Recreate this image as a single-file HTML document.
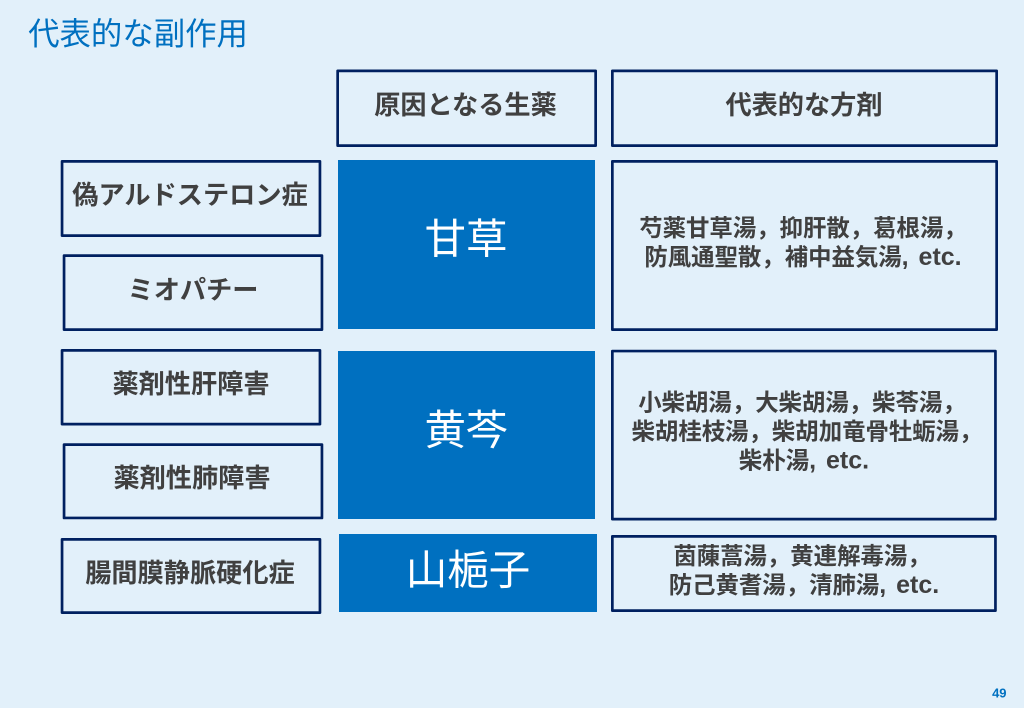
<!DOCTYPE html>
<html lang="ja"><head><meta charset="utf-8"><style>
html,body{margin:0;padding:0}
body{width:1024px;height:708px;background:#e2f0fa;position:relative;overflow:hidden;font-family:"Liberation Sans","Noto Sans CJK JP",sans-serif}
svg{position:absolute;left:0;top:0}
rect.b{fill:none;stroke:#002060;stroke-width:2.7;stroke-linejoin:round}
.f{position:absolute;background:#0070c0}
.t{position:absolute;white-space:nowrap;text-align:center;transform:translate(-50%,-50%);color:#404040;font-weight:700;font-size:26.2px;line-height:1}
.s{font-size:23.4px;line-height:29px}
.s i{font-style:normal;position:relative}
.s span{font-size:25px;word-spacing:3px}
.w{color:#fff;font-weight:400;font-size:41.5px}
</style></head><body>
<svg width="1024" height="708" viewBox="0 0 1024 708">
<rect class="b" x="337.65" y="70.85" width="258" height="74.8"/>
<rect class="b" x="612.35" y="70.85" width="384.3" height="74.8"/>
<rect class="b" x="62.05" y="161.35" width="257.9" height="74.3"/>
<rect class="b" x="64.05" y="255.65" width="257.9" height="74"/>
<rect class="b" x="62.05" y="350.35" width="257.9" height="73.8"/>
<rect class="b" x="64.05" y="444.65" width="257.9" height="73.3"/>
<rect class="b" x="62.05" y="539.35" width="257.9" height="73.3"/>
<rect class="b" x="612.35" y="161.35" width="384.3" height="168.3"/>
<rect class="b" x="612.35" y="351.05" width="383.1" height="168.1"/>
<rect class="b" x="612.35" y="536.35" width="383.1" height="74.3"/>
</svg>
<div class="t" style="left:138px;top:33.5px;font-size:31.4px;font-weight:400;color:#0070c0">代表的な副作用</div>
<div class="f" style="left:338px;top:160px;width:257px;height:169px"></div>
<div class="f" style="left:338px;top:351px;width:257px;height:168px"></div>
<div class="f" style="left:339px;top:534px;width:258px;height:78px"></div>
<div class="t" style="left:465.5px;top:105px">原因となる生薬</div>
<div class="t" style="left:804px;top:105px">代表的な方剤</div>
<div class="t" style="left:190px;top:195px">偽アルドステロン症</div>
<div class="t" style="left:193px;top:289.5px">ミオパチー</div>
<div class="t" style="left:191px;top:384px">薬剤性肝障害</div>
<div class="t" style="left:192px;top:478px">薬剤性肺障害</div>
<div class="t" style="left:190px;top:572.5px">腸間膜静脈硬化症</div>
<div class="t w" style="left:466px;top:239px">甘草</div>
<div class="t w" style="left:466px;top:430px">黄芩</div>
<div class="t w" style="left:468px;top:570px">山梔子</div>
<div class="t s" style="left:804px;top:243px"><i style="left:-1px">芍薬甘草湯，抑肝散，葛根湯，</i><br><i style="left:-1px">防風通聖散，補中益気湯<span>, etc.</span></i></div>
<div class="t s" style="left:804px;top:432px"><i style="left:-2px">小柴胡湯，大柴胡湯，柴苓湯，</i><br><i style="left:3px">柴胡桂枝湯，柴胡加竜骨牡蛎湯，</i><br><i>柴朴湯<span>, etc.</span></i></div>
<div class="t s" style="left:804px;top:571px"><i style="left:-2px">茵蔯蒿湯，黄連解毒湯，</i><br><i>防己黄耆湯，清肺湯<span>, etc.</span></i></div>
<div class="t" style="left:999.3px;top:692.5px;font-size:13px;color:#0070c0">49</div>
</body></html>
